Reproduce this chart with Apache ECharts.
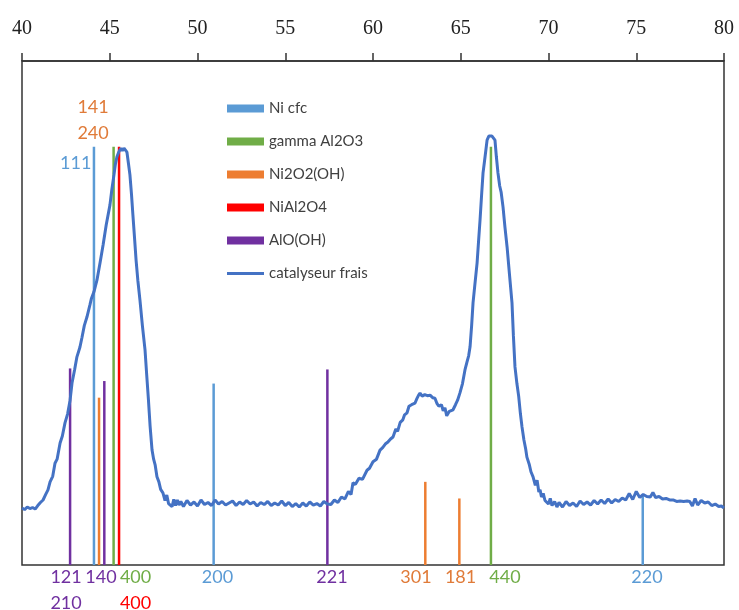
<!DOCTYPE html>
<html lang="fr">
  <head>
    <meta charset="UTF-8" />
    <title>DRX catalyseur frais</title>
    <script src="https://cdn.jsdelivr.net/npm/echarts@6/dist/echarts.min.js"></script>
    <style>
      html, body { margin: 0; padding: 0; background: #fff; }
      .echarts { width: 739px; height: 610px; }
    </style>
  </head>
  <body>
    <div class="echarts"></div>
    <script>
      // axe 2theta
      const xTicks = [40, 45, 50, 55, 60, 65, 70, 75, 80];

      // raies de reference [2theta, intensite relative]
      const niCfc = [[44.1, 83], [50.92, 36], [75.37, 14]];
      const gammaAl2O3 = [[45.22, 83], [66.72, 83]];
      const ni2o2oh = [[44.39, 33.2], [62.98, 16.5], [64.92, 13.2]];
      const nial2o4 = [[45.53, 83]];
      const alooh = [[42.74, 39.0], [44.69, 36.5], [57.4, 38.8]];

      // indices hkl [2theta, hauteur, texte, phase]
      const hklLabels = [
        [42.51, -2.4, '121', 'AlO(OH)'],
        [42.51, -7.5, '210', 'AlO(OH)'],
        [44.5, -2.4, '140', 'AlO(OH)'],
        [46.47, -2.4, '400', 'gamma Al2O3'],
        [46.47, -7.5, '400', 'NiAl2O4'],
        [51.14, -2.4, '200', 'Ni cfc'],
        [57.66, -2.4, '221', 'AlO(OH)'],
        [62.45, -2.4, '301', 'Ni2O2(OH)'],
        [64.99, -2.4, '181', 'Ni2O2(OH)'],
        [67.52, -2.4, '440', 'gamma Al2O3'],
        [75.61, -2.4, '220', 'Ni cfc'],
        [44.05, 90.9, '141', 'Ni2O2(OH)'],
        [44.05, 85.7, '240', 'Ni2O2(OH)'],
        [43.06, 79.8, '111', 'Ni cfc']
      ];

      // diffractogramme du catalyseur frais
      const catalyseurFrais = [
        [40.0, 11.3], [40.15, 11.0], [40.3, 11.5], [40.45, 11.2], [40.6, 11.4], [40.75, 11.1],
        [40.9, 11.8], [41.05, 12.4], [41.2, 12.9], [41.35, 14.0], [41.48, 14.9], [41.6, 16.5],
        [41.75, 17.6], [41.88, 20.2], [42.0, 21.0], [42.17, 24.2], [42.3, 25.6], [42.45, 28.2],
        [42.6, 30.0], [42.74, 32.7], [42.85, 36.1], [43.0, 38.8], [43.13, 41.3], [43.3, 43.2],
        [43.42, 45.2], [43.55, 47.5], [43.7, 49.2], [43.87, 51.6], [43.95, 52.8], [44.1, 54.2],
        [44.27, 56.5], [44.45, 60.0], [44.62, 63.5], [44.8, 67.5], [45.01, 71.4], [45.12, 74.5],
        [45.24, 77.4], [45.32, 79.5], [45.41, 81.0], [45.52, 82.0], [45.64, 82.7], [45.72, 82.2],
        [45.81, 82.7], [45.9, 82.6], [45.98, 81.9], [46.06, 79.8], [46.15, 77.4], [46.24, 73.5],
        [46.32, 69.4], [46.41, 65.0], [46.5, 60.5], [46.6, 56.5], [46.72, 52.6], [46.86, 47.5],
        [47.01, 42.7], [47.1, 38.0], [47.2, 33.0], [47.3, 27.5], [47.41, 22.8], [47.5, 21.0],
        [47.59, 19.8], [47.69, 17.5], [47.8, 16.5], [47.9, 15.0], [48.03, 14.3], [48.15, 12.8],
        [48.25, 13.9], [48.35, 12.2], [48.43, 12.5], [48.55, 11.6], [48.65, 13.0], [48.75, 11.8],
        [48.85, 12.9], [48.95, 11.9], [49.05, 12.6], [49.2, 11.6], [49.4, 12.8], [49.6, 11.9],
        [49.8, 12.5], [50.0, 11.7], [50.2, 12.9], [50.4, 12.0], [50.6, 12.4], [50.8, 11.8],
        [51.0, 12.9], [51.2, 12.1], [51.4, 12.6], [51.6, 11.9], [51.8, 12.3], [52.0, 12.7],
        [52.2, 11.8], [52.4, 12.5], [52.6, 12.0], [52.8, 12.8], [53.0, 12.1], [53.2, 12.5],
        [53.4, 11.7], [53.6, 12.4], [53.8, 12.0], [54.0, 12.6], [54.2, 11.8], [54.4, 12.3],
        [54.6, 11.9], [54.8, 12.7], [55.0, 11.8], [55.2, 12.4], [55.4, 11.6], [55.6, 12.2],
        [55.8, 11.5], [56.0, 12.3], [56.2, 11.7], [56.4, 12.5], [56.6, 11.9], [56.8, 12.2],
        [57.0, 11.7], [57.2, 12.6], [57.4, 12.1], [57.6, 12.0], [57.8, 12.9], [58.0, 12.4],
        [58.2, 13.5], [58.4, 13.1], [58.6, 14.6], [58.75, 14.0], [58.86, 16.3], [59.0, 16.0],
        [59.2, 17.2], [59.4, 17.0], [59.66, 18.8], [59.8, 19.2], [60.0, 20.5], [60.2, 21.0],
        [60.4, 22.8], [60.55, 23.3], [60.7, 24.0], [60.85, 24.4], [61.0, 25.0], [61.14, 25.4],
        [61.3, 27.0], [61.4, 26.5], [61.55, 28.3], [61.7, 28.8], [61.8, 29.8], [61.94, 30.2],
        [62.05, 31.5], [62.2, 31.8], [62.39, 32.1], [62.5, 33.0], [62.6, 33.7], [62.68, 34.1],
        [62.8, 33.5], [62.95, 33.8], [63.1, 33.6], [63.25, 33.7], [63.4, 33.2], [63.53, 33.1],
        [63.65, 32.0], [63.75, 31.5], [63.82, 31.2], [63.9, 31.8], [64.0, 30.6], [64.1, 31.2],
        [64.2, 29.6], [64.27, 29.4], [64.35, 30.5], [64.45, 30.6], [64.56, 30.8], [64.7, 31.8],
        [64.82, 32.7], [64.95, 34.1], [65.1, 36.0], [65.24, 38.7], [65.35, 40.2], [65.45, 41.5],
        [65.53, 43.3], [65.62, 47.5], [65.7, 52.0], [65.8, 55.5], [65.93, 59.9], [66.02, 64.5],
        [66.1, 68.5], [66.18, 73.0], [66.27, 77.8], [66.35, 80.0], [66.42, 82.0], [66.5, 84.3],
        [66.6, 85.1], [66.7, 85.2], [66.78, 85.1], [66.87, 85.0], [66.95, 84.3], [67.03, 81.0],
        [67.12, 77.8], [67.22, 75.2], [67.3, 74.0], [67.41, 71.0], [67.52, 67.0], [67.64, 63.1],
        [67.78, 57.5], [67.92, 52.0], [68.0, 45.5], [68.09, 39.3], [68.2, 36.0], [68.3, 33.5],
        [68.4, 30.0], [68.49, 27.4], [68.6, 24.8], [68.7, 23.0], [68.77, 21.4], [68.9, 20.0],
        [69.0, 18.5], [69.12, 17.5], [69.25, 15.8], [69.35, 16.8], [69.45, 14.5], [69.52, 14.9],
        [69.6, 13.5], [69.7, 14.2], [69.8, 12.8], [69.91, 12.9], [70.0, 12.1], [70.1, 13.2],
        [70.2, 11.8], [70.35, 12.6], [70.48, 11.5], [70.6, 12.4], [70.8, 11.5], [71.0, 12.6],
        [71.2, 11.8], [71.4, 12.3], [71.6, 11.6], [71.8, 12.7], [72.0, 12.0], [72.2, 12.5],
        [72.4, 11.9], [72.6, 12.8], [72.8, 12.1], [73.0, 12.9], [73.2, 12.2], [73.4, 13.1],
        [73.6, 12.3], [73.8, 13.0], [74.0, 12.6], [74.2, 13.3], [74.4, 12.9], [74.6, 14.2],
        [74.8, 13.0], [75.0, 14.6], [75.2, 13.4], [75.4, 14.0], [75.6, 13.6], [75.8, 13.5],
        [75.95, 14.4], [76.1, 13.4], [76.3, 13.6], [76.5, 13.1], [76.7, 13.2], [76.9, 12.9],
        [77.1, 12.9], [77.3, 12.6], [77.5, 12.7], [77.7, 12.6], [77.9, 12.7], [78.05, 12.6],
        [78.2, 11.7], [78.35, 13.2], [78.5, 11.9], [78.7, 12.8], [78.9, 12.3], [79.1, 12.5],
        [79.3, 11.8], [79.5, 12.1], [79.7, 11.6], [79.85, 11.7], [80.0, 11.3]
      ];

      const colors = {
        'Ni cfc': '#5B9BD5',
        'gamma Al2O3': '#70AD47',
        'Ni2O2(OH)': '#ED7D31',
        'NiAl2O4': '#FF0000',
        'AlO(OH)': '#7030A0',
        'catalyseur frais': '#4472C4'
      };
      const labelColors = {
        'Ni cfc': '#5B9BD5',
        'gamma Al2O3': '#70AD47',
        'Ni2O2(OH)': '#E07B39',
        'NiAl2O4': '#FF0000',
        'AlO(OH)': '#7030A0'
      };

      const myCharts = echarts.init(document.querySelector('.echarts'))

      // une raie = un trait vertical de 0 a la hauteur
      function stickSeries(name, data) {
        return {
          name: name,
          type: 'custom',
          data: data,
          encode: { x: 0, y: 1 },
          itemStyle: { color: colors[name] },
          z: 2,
          renderItem: function (params, api) {
            const top = api.coord([api.value(0), api.value(1)])
            const base = api.coord([api.value(0), 0])
            return {
              type: 'line',
              shape: { x1: top[0], y1: top[1], x2: base[0], y2: base[1] },
              style: { stroke: colors[name], lineWidth: 2.5 }
            }
          }
        }
      }

      const option = {
        animation: false,
        grid: {
          left: 22, right: 15, top: 61, bottom: 45,
          show: true, borderColor: '#333', borderWidth: 1.5, backgroundColor: 'transparent'
        },
        legend: {
          orient: 'vertical',
          left: 222,
          top: 96,
          itemWidth: 37,
          itemHeight: 8,
          itemGap: 18,
          textStyle: { fontFamily: 'Lato', fontSize: 15, color: '#404040' },
          data: [
            { name: 'Ni cfc', icon: 'rect' },
            { name: 'gamma Al2O3', icon: 'rect' },
            { name: 'Ni2O2(OH)', icon: 'rect' },
            { name: 'NiAl2O4', icon: 'rect' },
            { name: 'AlO(OH)', icon: 'rect' },
            { name: 'catalyseur frais', icon: 'path://M0,0 L37,0 L37,3 L0,3 Z' }
          ]
        },
        xAxis: {
          type: 'value',
          position: 'top',
          min: xTicks[0],
          max: xTicks[xTicks.length - 1],
          interval: 5,
          splitLine: { show: false },
          axisLine: { show: true, onZero: false, lineStyle: { color: '#333', width: 1.5 } },
          axisTick: { show: true, inside: false, length: 8, lineStyle: { color: '#333', width: 1.5 } },
          axisLabel: { fontFamily: 'Liberation Serif', fontSize: 20, color: '#222', margin: 22 }
        },
        yAxis: {
          type: 'value',
          min: 0,
          max: 100,
          show: false
        },
        series: [
          stickSeries('Ni cfc', niCfc),
          stickSeries('gamma Al2O3', gammaAl2O3),
          stickSeries('Ni2O2(OH)', ni2o2oh),
          stickSeries('NiAl2O4', nial2o4),
          stickSeries('AlO(OH)', alooh),
          {
            name: 'catalyseur frais',
            type: 'line',
            data: catalyseurFrais,
            symbol: 'none',
            z: 3,
            itemStyle: { color: colors['catalyseur frais'] },
            lineStyle: { color: colors['catalyseur frais'], width: 3 }
          },
          {
            name: 'hkl',
            type: 'custom',
            data: hklLabels,
            encode: { x: 0, y: 1 },
            clip: false,
            z: 4,
            renderItem: function (params, api) {
              const item = hklLabels[params.dataIndex]
              const p = api.coord([item[0], item[1]])
              return {
                type: 'text',
                x: p[0],
                y: p[1],
                style: {
                  text: item[2],
                  fill: labelColors[item[3]],
                  font: '18px Lato',
                  textAlign: 'center',
                  textVerticalAlign: 'middle'
                }
              }
            }
          }
        ]
      }
      myCharts.setOption(option)
    </script>
  </body>
</html>
